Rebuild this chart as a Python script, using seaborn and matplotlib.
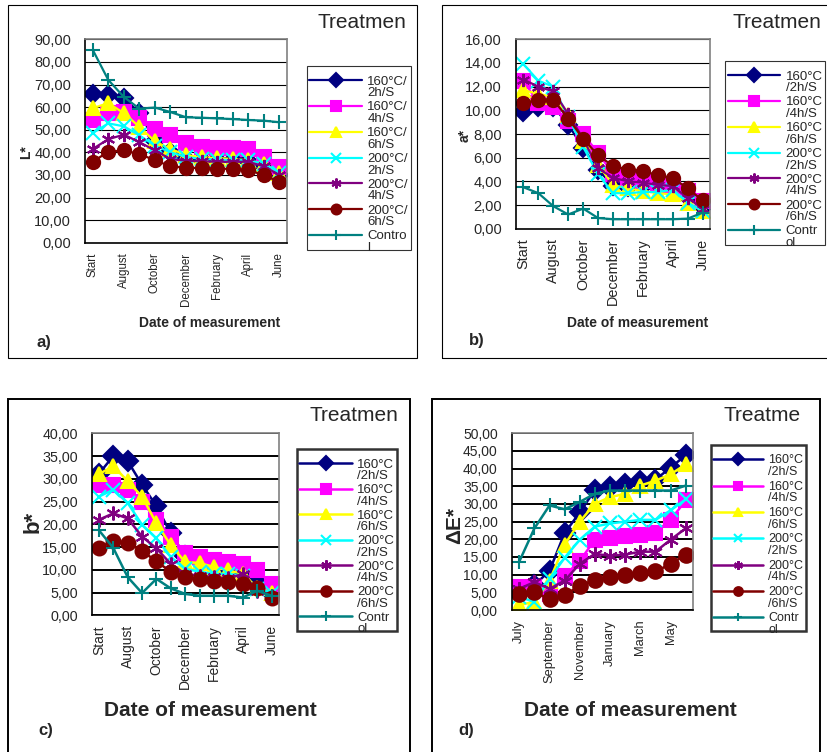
import numpy as np
import matplotlib
matplotlib.use("Agg")
import matplotlib.pyplot as plt
import seaborn as sns
from matplotlib.patches import Rectangle
from matplotlib.ticker import FuncFormatter

# ---------------------------------------------------------
# DATA
# ---------------------------------------------------------
TREATMENTS = ["160°C/2h/S", "160°C/4h/S", "160°C/6h/S",
              "200°C/2h/S", "200°C/4h/S", "200°C/6h/S", "Control"]
COLORS = ["#000080", "#FF00FF", "#FFFF00", "#00FFFF", "#800080", "#800000", "#008080"]
MARKERS = ["D", "s", "^", "x", (6, 2, 0), "o", "+"]

MONTHS_START = ["Start", "July", "August", "September", "October", "November",
                "December", "January", "February", "March", "April", "May", "June"]
MONTHS_JULY = ["July", "August", "September", "October", "November", "December",
               "January", "February", "March", "April", "May", "June"]

# a) L*
L_160_2h = [65.8, 65.5, 64.0, 57.5, 45.0, 40.0, 37.0, 36.8, 36.5, 36.5, 36.3, 34.0, 30.0]
L_160_4h = [54.5, 57.5, 58.0, 55.0, 50.5, 47.5, 44.0, 42.5, 42.0, 41.8, 41.5, 37.8, 33.5]
L_160_6h = [59.5, 61.8, 57.3, 51.3, 44.8, 41.5, 38.8, 37.8, 37.5, 37.0, 36.5, 35.0, 31.0]
L_200_2h = [48.5, 52.8, 51.5, 47.5, 43.0, 40.0, 38.0, 37.0, 36.8, 36.5, 36.5, 35.0, 31.0]
L_200_4h = [41.5, 45.8, 47.8, 44.5, 40.8, 37.0, 36.3, 36.0, 35.8, 35.8, 35.8, 33.8, 30.0]
L_200_6h = [35.8, 40.3, 40.8, 39.2, 36.5, 33.8, 33.2, 33.0, 32.8, 32.6, 32.3, 29.8, 27.0]
L_control = [85.3, 72.0, 64.5, 59.3, 59.8, 57.8, 55.5, 55.3, 55.0, 54.7, 54.3, 54.0, 53.3]

# b) a*
A_160_2h = [9.9, 10.3, 10.3, 8.8, 6.8, 5.0, 3.6, 3.5, 3.6, 3.5, 3.4, 2.7, 1.8]
A_160_4h = [12.5, 10.6, 10.3, 9.1, 8.0, 6.4, 4.6, 4.3, 4.0, 3.7, 3.6, 3.2, 2.3]
A_160_6h = [11.7, 11.4, 11.1, 9.6, 7.4, 5.4, 3.7, 3.4, 3.2, 3.0, 2.9, 2.2, 1.5]
A_200_2h = [13.9, 12.5, 12.0, 9.4, 6.9, 4.6, 3.0, 3.0, 3.1, 3.1, 3.3, 2.2, 1.5]
A_200_4h = [12.6, 12.0, 11.6, 9.7, 7.6, 5.1, 4.3, 4.0, 3.9, 3.7, 3.6, 2.6, 1.7]
A_200_6h = [10.6, 10.9, 10.9, 9.3, 7.6, 6.2, 5.3, 5.0, 4.9, 4.5, 4.3, 3.4, 2.4]
A_control = [3.5, 3.0, 1.9, 1.2, 1.7, 0.9, 0.8, 0.8, 0.8, 0.8, 0.8, 0.85, 1.35]

# c) b*
B_160_2h = [31.1, 35.0, 33.9, 28.7, 24.0, 18.0, 13.0, 12.0, 11.0, 10.0, 9.5, 7.5, 5.0]
B_160_4h = [28.7, 28.7, 27.6, 25.0, 21.0, 17.3, 13.6, 12.8, 12.1, 11.7, 11.3, 9.9, 6.9]
B_160_6h = [31.0, 32.8, 29.5, 26.1, 20.2, 15.4, 11.7, 11.5, 10.6, 9.9, 9.1, 6.1, 5.0]
B_200_2h = [26.1, 27.6, 24.7, 19.9, 16.9, 12.8, 10.2, 9.6, 9.1, 9.1, 8.7, 5.8, 5.0]
B_200_4h = [21.0, 22.4, 21.3, 17.3, 14.7, 11.3, 9.1, 8.7, 8.4, 8.1, 9.1, 5.4, 4.3]
B_200_6h = [14.8, 16.4, 16.0, 14.1, 11.9, 9.5, 8.4, 8.0, 7.6, 7.3, 6.9, 6.1, 3.9]
B_control = [18.7, 14.8, 8.4, 4.9, 8.0, 5.9, 4.7, 4.3, 4.3, 4.3, 3.9, 5.4, 4.3]

# d) delta E*
E_160_2h = [5.0, 7.0, 11.1, 21.8, 27.6, 34.0, 34.7, 35.6, 36.6, 36.9, 40.3, 43.8]
E_160_4h = [6.5, 6.5, 4.6, 9.7, 13.9, 19.9, 20.4, 20.8, 21.3, 21.8, 25.5, 31.0]
E_160_6h = [1.4, 2.3, 8.3, 18.5, 25.0, 30.1, 31.9, 32.9, 35.2, 36.6, 38.4, 41.2]
E_200_2h = [3.7, 2.3, 8.8, 14.8, 19.9, 23.6, 24.5, 25.0, 25.5, 25.5, 28.2, 31.3]
E_200_4h = [6.0, 7.9, 6.0, 8.3, 13.1, 15.9, 15.3, 15.7, 16.5, 16.5, 19.9, 23.1]
E_200_6h = [4.4, 5.1, 3.0, 4.2, 6.9, 8.5, 9.3, 10.0, 10.4, 10.9, 13.0, 15.7]
E_control = [13.7, 23.1, 29.6, 28.5, 30.6, 32.9, 33.8, 33.8, 33.8, 33.8, 33.8, 35.2]

L_SERIES = [L_160_2h, L_160_4h, L_160_6h, L_200_2h, L_200_4h, L_200_6h, L_control]
A_SERIES = [A_160_2h, A_160_4h, A_160_6h, A_200_2h, A_200_4h, A_200_6h, A_control]
B_SERIES = [B_160_2h, B_160_4h, B_160_6h, B_200_2h, B_200_4h, B_200_6h, B_control]
E_SERIES = [E_160_2h, E_160_4h, E_160_6h, E_200_2h, E_200_4h, E_200_6h, E_control]

# ---------------------------------------------------------
# LAYOUT HELPERS (pixel positions of the 827x752 picture)
# ---------------------------------------------------------
W, H = 827, 752


def rect_px(x0, y0, x1, y1):
    return [x0 / W, 1 - y1 / H, (x1 - x0) / W, (y1 - y0) / H]


def pt(x, y):
    return x / W, 1 - y / H


def comma_fmt(v, pos):
    return f"{v:.2f}".replace(".", ",")


def draw_panel(fig, series, months, cfg):
    ax = fig.add_axes(rect_px(*cfg["axes"]))
    x = np.arange(len(months))
    cut = cfg["wrap"]
    for name, vals, color, marker in zip(TREATMENTS, series, COLORS, MARKERS):
        # Excel wrapped the legend names onto two lines
        label = name[:cut] + "\n" + name[cut:]
        sns.lineplot(x=x, y=vals, ax=ax, color=color, marker=marker,
                     markersize=cfg["ms"], markeredgecolor=color, markerfacecolor=color,
                     markeredgewidth=1.5, linewidth=cfg["lw"], label=label)

    ax.set_xlim(-0.5, len(months) - 0.5)
    ax.set_ylim(0, cfg["ymax"])
    ax.set_yticks(np.arange(0, cfg["ymax"] + 0.001, cfg["ystep"]))
    ax.yaxis.set_major_formatter(FuncFormatter(comma_fmt))
    ax.tick_params(axis="y", length=4, width=1, direction="out", color="black",
                   labelsize=cfg["ytick_fs"], pad=6)

    ax.set_xticks(x[::2])
    ax.set_xticklabels(months[::2], rotation=90, fontsize=cfg["xtick_fs"])
    ax.set_xticks(np.arange(-0.5, len(months)), minor=True)
    ax.tick_params(axis="x", which="major", length=0, pad=7)
    ax.tick_params(axis="x", which="minor", length=4, width=1, direction="out", color="black")

    ax.grid(axis="y", color="black", linewidth=cfg["grid_lw"])
    ax.grid(axis="x", visible=False)
    ax.set_axisbelow(True)
    for side in ["left", "bottom"]:
        ax.spines[side].set_color("black")
        ax.spines[side].set_linewidth(1.2)
    for side in ["top", "right"]:
        ax.spines[side].set_color("#808080")
        ax.spines[side].set_linewidth(1.2)
    ax.set_xlabel("")
    ax.set_ylabel("")

    leg = ax.legend(loc="upper left", bbox_to_anchor=pt(*cfg["legend"]),
                    bbox_transform=fig.transFigure, borderaxespad=0, frameon=True,
                    fancybox=False, fontsize=cfg["leg_fs"], handlelength=4.0,
                    handletextpad=0.4, labelspacing=cfg["leg_spacing"], borderpad=0.2,
                    markerscale=cfg["markerscale"])
    leg.get_frame().set_edgecolor("black")
    leg.get_frame().set_linewidth(cfg["leg_lw"])
    for t in leg.get_texts():
        t.set_linespacing(0.95)
        # first text line sits level with the marker, as in Excel
        t.set_y(-cfg["leg_shift"])

    # panel frame and texts
    bx0, by0, bx1, by1 = cfg["box"]
    fig.add_artist(Rectangle(pt(bx0, by1), (bx1 - bx0) / W, (by1 - by0) / H,
                             transform=fig.transFigure, fill=False, edgecolor="black",
                             linewidth=cfg["box_lw"]))
    fig.text(*pt(*cfg["title_xy"]), cfg["title"], fontsize=15, ha="center", va="center")
    fig.text(*pt(*cfg["ylabel_xy"]), cfg["ylabel"], fontsize=cfg["ylabel_fs"],
             fontweight="bold", rotation=90, ha="center", va="center")
    fig.text(*pt(*cfg["xlabel_xy"]), "Date of measurement", fontsize=cfg["xlabel_fs"],
             fontweight="bold", ha="center", va="center")
    fig.text(*pt(*cfg["tag_xy"]), cfg["tag"], fontsize=12, fontweight="bold",
             ha="center", va="center")
    return ax


sns.set_style("white")
plt.rcParams["font.family"] = ["Liberation Sans", "DejaVu Sans"]

fig = plt.figure(figsize=(W / 100, H / 100), dpi=100)

panel_a = dict(axes=(85, 39.3, 287, 242.7), ymax=90, ystep=10, ms=9.5, lw=1.6,
               wrap=6, ytick_fs=10.5, xtick_fs=8.3, grid_lw=0.8,
               legend=(306.7, 66), leg_fs=9.5, leg_spacing=0.17, leg_shift=7,
               leg_lw=0.8, markerscale=0.75,
               box=(7.5, 5, 417, 358), box_lw=0.8,
               title="Treatmen", title_xy=(361.5, 23),
               ylabel="L*", ylabel_xy=(26, 152), ylabel_fs=10,
               xlabel_xy=(210, 323), xlabel_fs=10, tag="a)", tag_xy=(44, 342))
panel_b = dict(axes=(516, 39.3, 710, 228.7), ymax=16, ystep=2, ms=9.5, lw=1.6,
               wrap=5, ytick_fs=10.5, xtick_fs=10.4, grid_lw=0.8,
               legend=(725, 61), leg_fs=9.5, leg_spacing=0.17, leg_shift=7,
               leg_lw=0.8, markerscale=0.75,
               box=(441.5, 5, 835, 358), box_lw=0.8,
               title="Treatmen", title_xy=(777, 23),
               ylabel="a*", ylabel_xy=(465, 136), ylabel_fs=10,
               xlabel_xy=(638, 323), xlabel_fs=10, tag="b)", tag_xy=(477, 341))
panel_c = dict(axes=(91.7, 433.3, 278.7, 615.3), ymax=40, ystep=5, ms=10, lw=1.8,
               wrap=5, ytick_fs=10.3, xtick_fs=10, grid_lw=1.4,
               legend=(296.7, 449), leg_fs=9.5, leg_spacing=0.15, leg_shift=7,
               leg_lw=1.8, markerscale=0.75,
               box=(8.3, 399, 410, 760), box_lw=1.4,
               title="Treatmen", title_xy=(353.5, 415),
               ylabel="b*", ylabel_xy=(33, 522), ylabel_fs=16,
               xlabel_xy=(210.5, 710), xlabel_fs=15, tag="c)", tag_xy=(46, 731))
panel_d = dict(axes=(511.7, 433.3, 693.3, 610), ymax=50, ystep=5, ms=10.5, lw=1.8,
               wrap=5, ytick_fs=10, xtick_fs=9.3, grid_lw=1.4,
               legend=(710.7, 445), leg_fs=9, leg_spacing=0.22, leg_shift=7,
               leg_lw=1.8, markerscale=0.6,
               box=(431.7, 399, 820, 760), box_lw=1.4,
               title="Treatme", title_xy=(762, 415),
               ylabel="ΔE*", ylabel_xy=(455, 525), ylabel_fs=15,
               xlabel_xy=(630.5, 710), xlabel_fs=15, tag="d)", tag_xy=(466, 731))

draw_panel(fig, L_SERIES, MONTHS_START, panel_a)
draw_panel(fig, A_SERIES, MONTHS_START, panel_b)
draw_panel(fig, B_SERIES, MONTHS_START, panel_c)
draw_panel(fig, E_SERIES, MONTHS_JULY, panel_d)

fig.savefig("out.png", dpi=100)
